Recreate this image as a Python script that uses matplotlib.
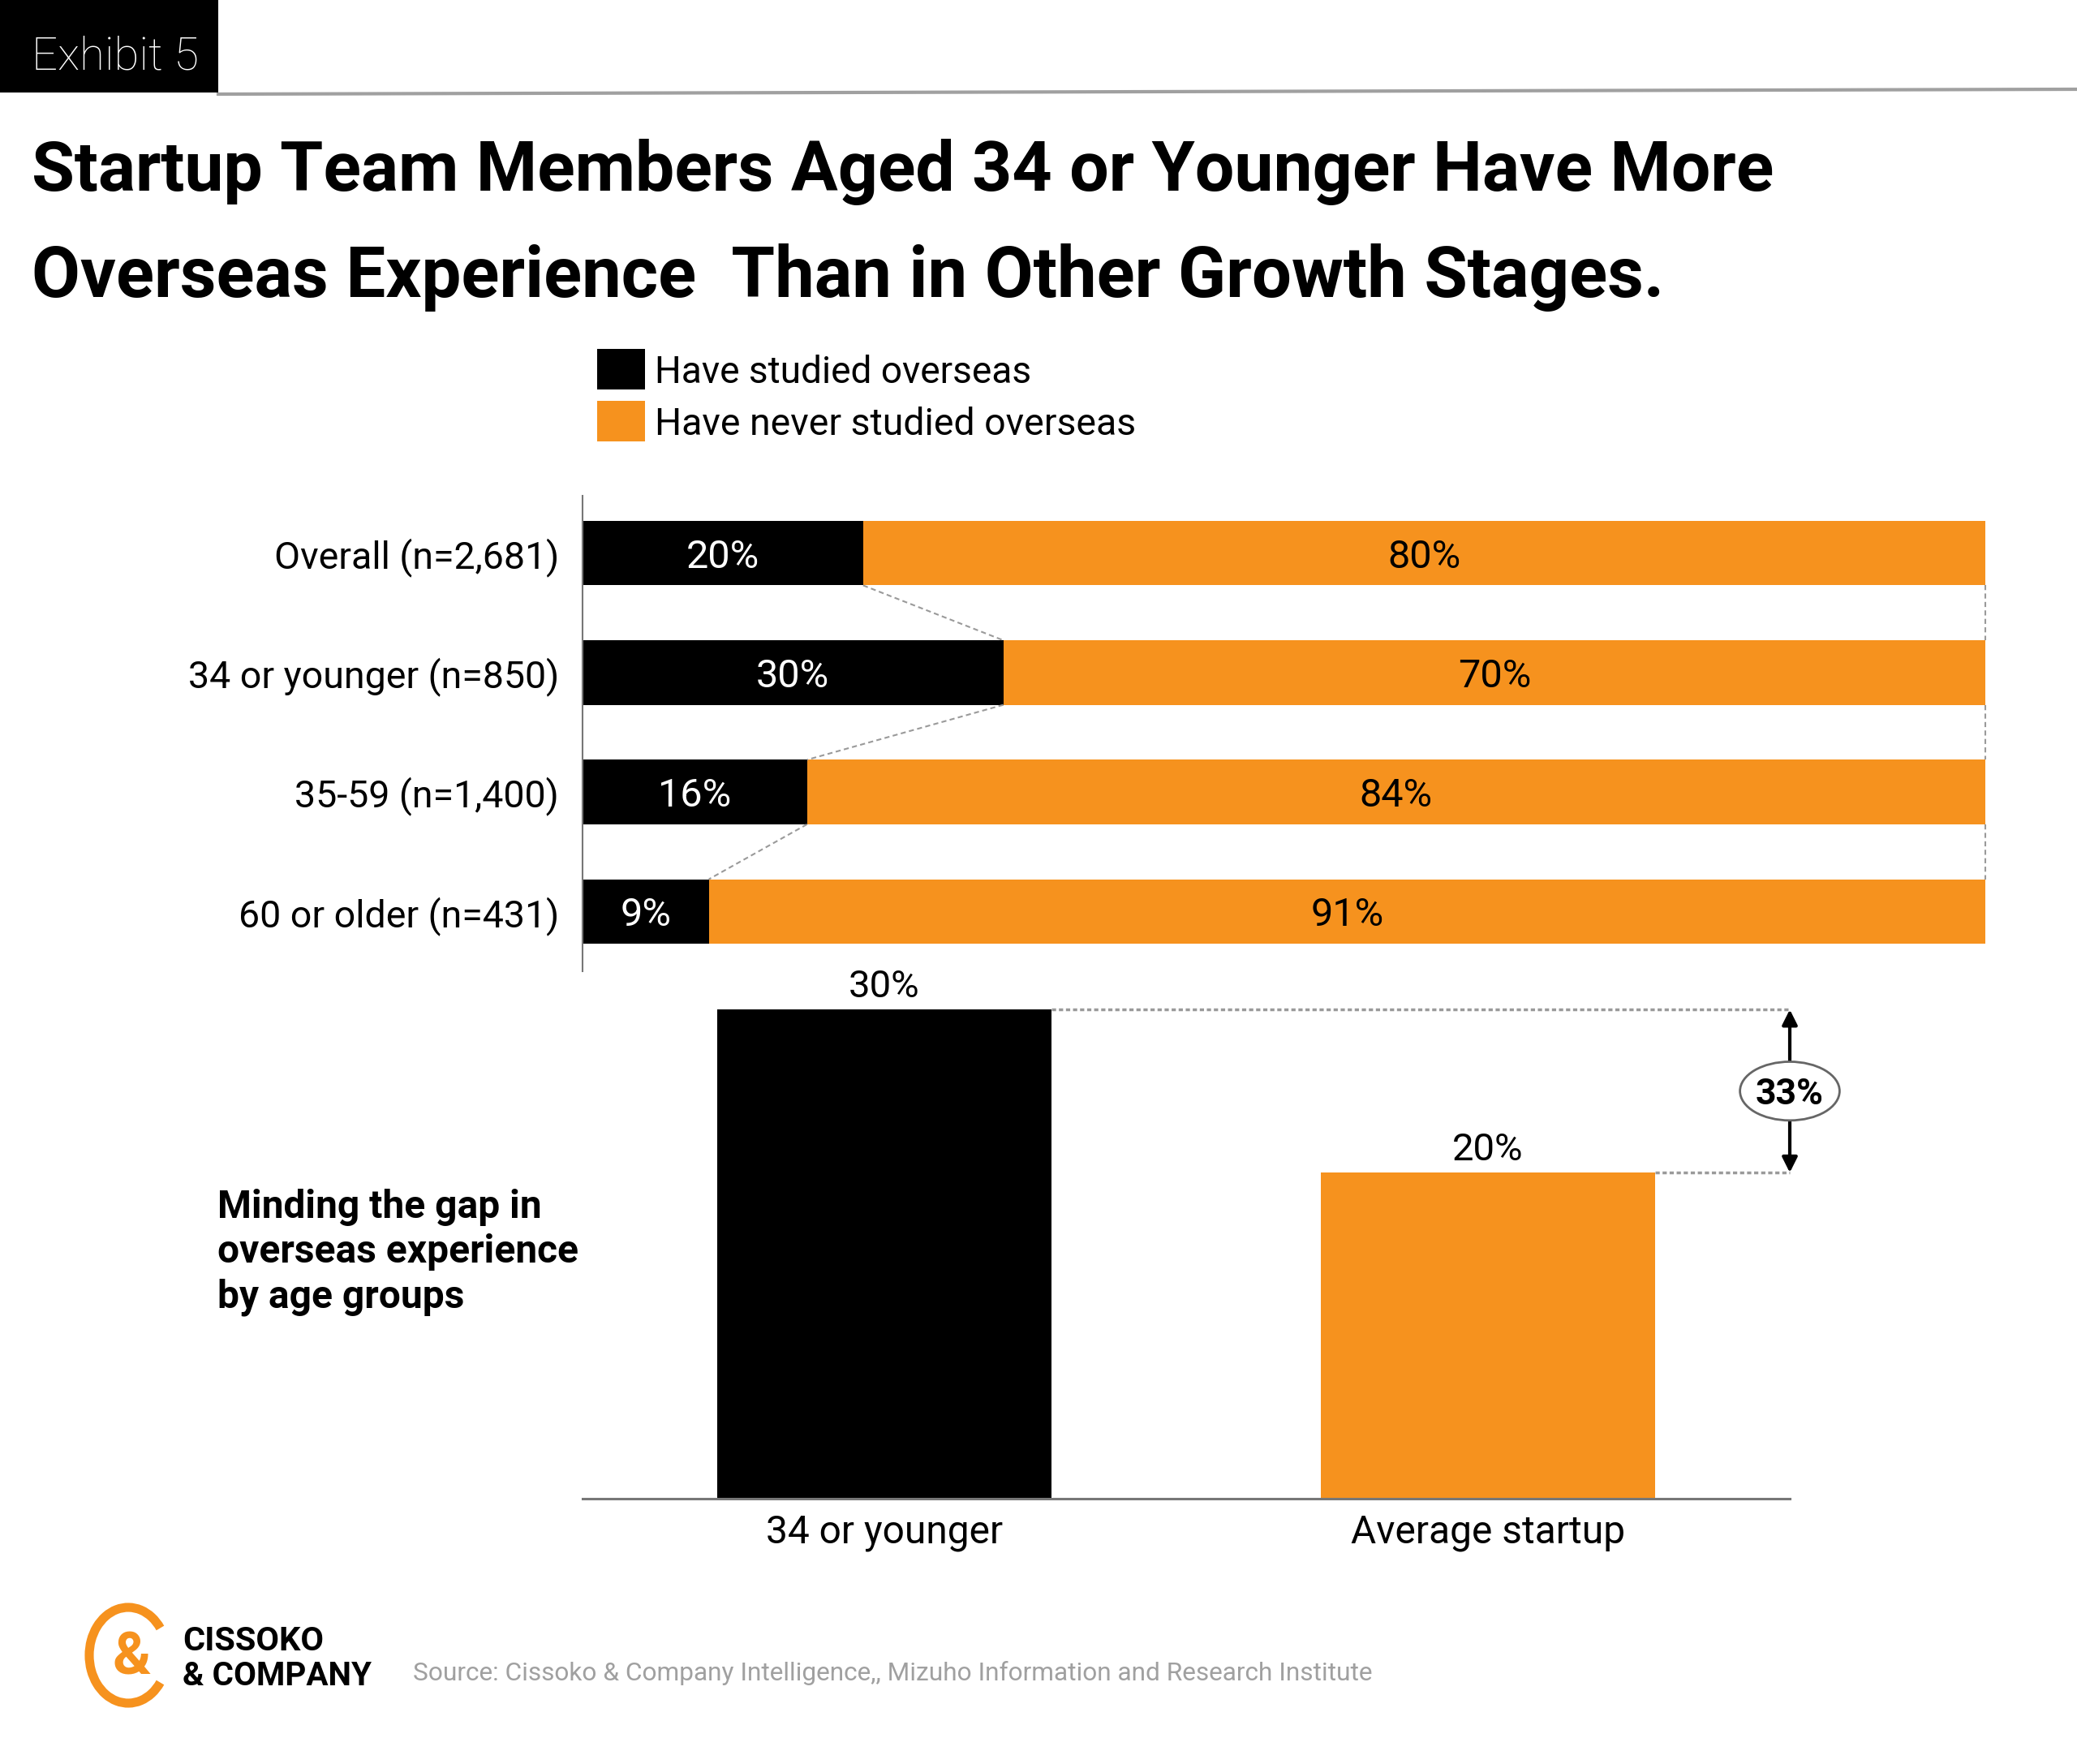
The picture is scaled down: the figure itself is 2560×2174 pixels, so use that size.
import matplotlib
matplotlib.use('Agg')
import matplotlib.pyplot as plt
from matplotlib.patches import Rectangle, Ellipse, Arc
from matplotlib.lines import Line2D

# ---- data ----
groups = ['Overall (n=2,681)', '34 or younger (n=850)', '35-59 (n=1,400)', '60 or older (n=431)']
studied = [20, 30, 16, 9]
never = [80, 70, 84, 91]
series_names = ['Have studied overseas', 'Have never studied overseas']

gap_labels = ['34 or younger', 'Average startup']
gap_values = [30, 20]
gap_diff = '33%'

title_lines = ['Startup Team Members Aged 34 or Younger Have More',
               'Overseas Experience  Than in Other Growth Stages.']
side_note = ['Minding the gap in', 'overseas experience', 'by age groups']
source = 'Source: Cissoko & Company Intelligence,, Mizuho Information and Research Institute'

BLACK = '#000000'
ORANGE = '#F6921E'
GREY = '#9a9a9a'
plt.rcParams['font.family'] = ['Roboto', 'DejaVu Sans']

W, H = 2560, 2174
fig = plt.figure(figsize=(W / 100, H / 100), dpi=100)
renderer = fig.canvas.get_renderer()


def fx(x):
    return x / W


def fy(y):
    return 1 - y / H


def fit(t, width):
    # scale font so the text spans the width measured on the reference
    w = t.get_window_extent(renderer=renderer).width
    t.set_fontsize(t.get_fontsize() * width / w)


# ---- header ----
fig.patches.append(Rectangle((0, fy(114)), fx(269), 114 / H, transform=fig.transFigure,
                             facecolor=BLACK, edgecolor='none'))
fig.add_artist(Line2D([fx(269), 1], [fy(116), fy(110)], color='#a0a0a0', lw=3))
t = fig.text(fx(39), fy(85), 'Exhibit 5', color='white', fontsize=46, fontweight='light',
             va='baseline', ha='left')
fit(t, 206)

for line, base, wd in zip(title_lines, [235, 366], [2149, 2013]):
    t = fig.text(fx(39), fy(base), line, fontsize=70, fontweight='bold', va='baseline', ha='left')
    fit(t, wd)

# ---- legend ----
for name, col, yc, wd in zip(series_names, [BLACK, ORANGE], [455, 519], [465, 593]):
    fig.patches.append(Rectangle((fx(736), fy(yc + 25)), 59 / W, 50 / H, transform=fig.transFigure,
                                 facecolor=col, edgecolor='none'))
    t = fig.text(fx(807), fy(yc + 17), name, fontsize=36, va='baseline', ha='left')
    fit(t, wd)

# ---- top: stacked bars ----
ax1 = fig.add_axes([fx(718), fy(1197), (2447 - 718) / W, (1197 - 611) / H])
h = 0.54
y = list(range(len(groups)))
ax1.barh(y, studied, height=h, color=BLACK)
ax1.barh(y, never, left=studied, height=h, color=ORANGE)
ax1.set_xlim(0, 100)
ax1.set_ylim(3.5, -0.48)

for i, (s, n) in enumerate(zip(studied, never)):
    ax1.text(s / 2, i, f'{s}%', color='white', ha='center', va='center_baseline', fontsize=35)
    ax1.text(s + n / 2, i, f'{n}%', color=BLACK, ha='center', va='center_baseline', fontsize=35)

for i in range(len(groups) - 1):
    ax1.plot([studied[i], studied[i + 1]], [i + h / 2, i + 1 - h / 2],
             ls=(0, (3, 2)), color=GREY, lw=1.5)
    ax1.plot([100, 100], [i + h / 2, i + 1 - h / 2], ls=(0, (3, 2)), color=GREY, lw=1.5,
             clip_on=False)

ax1.set_yticks(y, groups, fontsize=33.5)
ax1.tick_params(axis='y', length=0, pad=21)
ax1.set_xticks([])
for sp in ['top', 'right', 'bottom']:
    ax1.spines[sp].set_visible(False)
ax1.spines['left'].set_color('#777777')
ax1.spines['left'].set_linewidth(1.5)

# ---- bottom: gap bars ----
ax2 = fig.add_axes([fx(718), fy(1847), (2206 - 718) / W, (1847 - 1204) / H])
bw = 0.553
ax2.bar([0, 1], gap_values, width=bw, color=[BLACK, ORANGE])
ax2.set_xlim(-0.5, 1.5)
ax2.set_ylim(0, 32)

for i, v in enumerate(gap_values):
    ax2.text(i, v + 0.75, f'{v}%', ha='center', va='baseline', fontsize=34)

ax2.plot([0 + bw / 2, 1.5], [gap_values[0]] * 2, ls=(0, (1.5, 1)), color=GREY, lw=2.5,
         clip_on=False)
ax2.plot([1 + bw / 2, 1.5], [gap_values[1]] * 2, ls=(0, (1.5, 1)), color=GREY, lw=2.5,
         clip_on=False)
ax2.annotate('', xy=(1.5, gap_values[0]), xytext=(1.5, gap_values[1]),
             arrowprops=dict(arrowstyle='<|-|>', color=BLACK, lw=3, mutation_scale=28,
                             shrinkA=0, shrinkB=0),
             annotation_clip=False)
mid = (gap_values[0] + gap_values[1]) / 2
ax2.add_patch(Ellipse((1.5, mid), 0.165, 3.6, facecolor='white', edgecolor='#666666',
                      lw=2, zorder=5, clip_on=False))
ax2.text(1.5, mid, gap_diff, ha='center', va='center_baseline', fontsize=32,
         fontweight='bold', zorder=6)

ax2.set_xticks([0, 1], gap_labels, fontsize=34.5)
ax2.tick_params(axis='x', length=0, pad=14)
ax2.set_yticks([])
for sp in ['top', 'right', 'left']:
    ax2.spines[sp].set_visible(False)
ax2.spines['bottom'].set_color('#777777')
ax2.spines['bottom'].set_linewidth(2.2)

for line, base in zip(side_note, [1501, 1556, 1611]):
    fig.text(fx(268), fy(base), line, fontsize=34.5, fontweight='bold', va='baseline', ha='left')

# ---- footer: logo + source ----
fig.patches.append(Arc((fx(158), fy(2040)), 96 / W, 118 / H, theta1=45, theta2=315,
                       transform=fig.transFigure, color=ORANGE, lw=8))
fig.text(fx(162), fy(2044), '&', color=ORANGE, fontsize=52, fontweight='bold',
         ha='center', va='center')
for line, base, wd in zip(['CISSOKO', '& COMPANY'], [2034, 2077], [174, 233]):
    t = fig.text(fx(225), fy(base), line, fontsize=25, fontweight='bold', va='baseline', ha='left')
    fit(t, wd)
t = fig.text(fx(509), fy(2071), source, color='#a0a0a0', fontsize=27,
             va='baseline', ha='left')
fit(t, 1185)

fig.savefig('out.png', dpi=100)
